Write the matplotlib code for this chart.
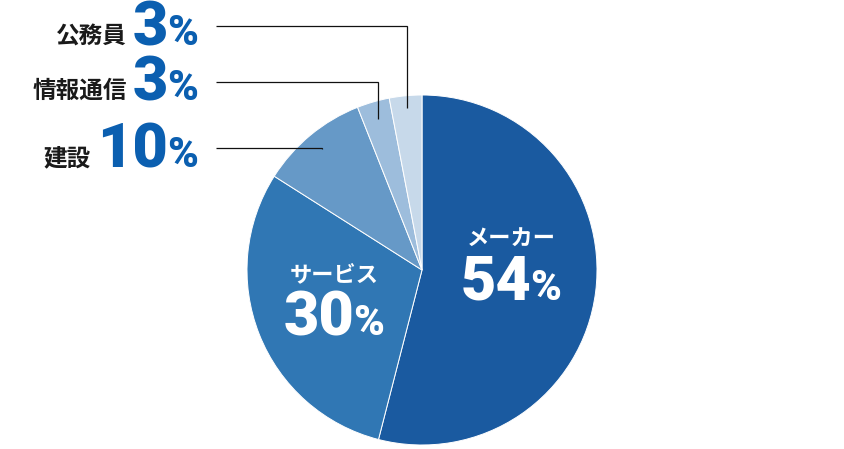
import matplotlib
matplotlib.use('Agg')
import matplotlib.pyplot as plt
import numpy as np

categories = ['メーカー', 'サービス', '建設', '情報通信', '公務員']
values = [54, 30, 10, 3, 3]
colors = ['#1a5aa0', '#3077b4', '#6699c7', '#9dbddc', '#c7d9ea']

W, H = 845, 449
fig = plt.figure(figsize=(8.45, 4.49), dpi=100)
ax = fig.add_axes([0, 0, 1, 1])
cx, cy, R = 422, H - 270, 175
wedges, _ = ax.pie(values, colors=colors, startangle=90, counterclock=False,
                   center=(cx, cy), radius=R,
                   wedgeprops=dict(edgecolor='white', linewidth=0.7))
ax.set_xlim(0, W)
ax.set_ylim(0, H)
ax.set_axis_off()

CJK = ['Noto Sans CJK JP', 'DejaVu Sans']
NUM = ['Roboto', 'DejaVu Sans']
renderer = fig.canvas.get_renderer()

def width(t):
    return t.get_window_extent(renderer=renderer).width

def number_pair(val, baseline_y, color, right=None, center=None, nsize=44, psize=30, gap=-1):
    tn = ax.text(0, baseline_y, str(val), fontsize=nsize, fontweight='heavy',
                 family=NUM, color=color, va='baseline', ha='left')
    tp = ax.text(0, baseline_y, '%', fontsize=psize, fontweight='heavy',
                 family=NUM, color=color, va='baseline', ha='left')
    wn, wp = width(tn), width(tp)
    total = wn + gap + wp
    if right is not None:
        left = right - total
    else:
        left = center - total / 2
    tn.set_x(left)
    tp.set_x(left + wn + gap)
    return left

# Inside labels
inside = [(0, 511, 246, 300), (1, 334, 281, 335)]
for idx, xc, cat_base, num_base in inside:
    ax.text(xc, H - cat_base, categories[idx], fontsize=16, fontweight='bold',
            family=CJK, color='white', ha='center', va='baseline')
    number_pair(values[idx], H - num_base, 'white', center=xc)

# Outside labels with leader lines
blue = '#0b5fb0'
outside = [(4, 26, 45, 0.93), (3, 82, 100, 0.90), (2, 148, 167, 0.90)]
for idx, line_y, base_y, rfrac in outside:
    left = number_pair(values[idx], H - base_y, blue, right=198)
    ax.text(left - 6, H - base_y + 2, categories[idx], fontsize=17, fontweight='bold',
            family=CJK, color='#1a1a1a', ha='right', va='baseline')
    w = wedges[idx]
    mid = np.deg2rad((w.theta1 + w.theta2) / 2)
    axp = cx + rfrac * R * np.cos(mid)
    ayp = cy + rfrac * R * np.sin(mid)
    ly = H - line_y
    ax.plot([216, axp, axp], [ly, ly, ayp], color='#111111', lw=0.9,
            solid_capstyle='butt', solid_joinstyle='miter')

fig.savefig('out.png', dpi=100)
